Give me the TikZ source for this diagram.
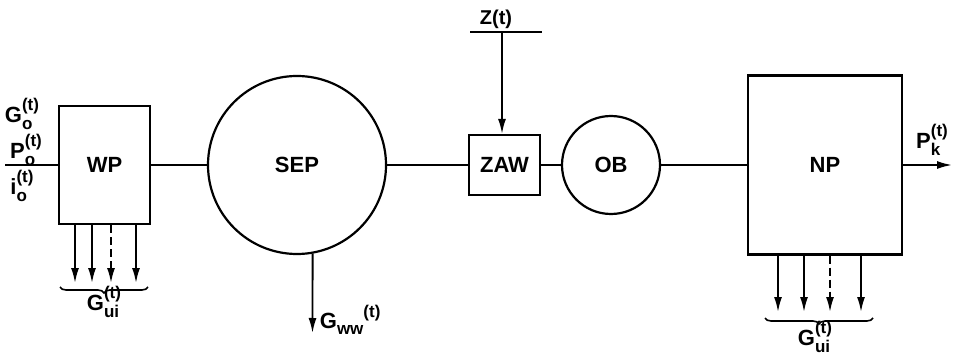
\documentclass[tikz,border=0pt]{standalone}
\usepackage{fontspec}
\setmainfont{Liberation Sans}
\usetikzlibrary{arrows.meta,decorations.pathreplacing}
\newcommand{\scr}[1]{{\fontsize{17}{17}\selectfont\bfseries #1}}
\newcommand{\symlbl}[3]{#1\raisebox{-7pt}{\makebox[0pt][l]{\scr{#2}}}\raisebox{12pt}{\scr{#3}}}
\begin{document}
\begin{tikzpicture}[x=1pt,y=-1pt,
  font=\fontsize{22}{25}\selectfont\bfseries, line width=1.8pt,
  box/.style={draw, line width=2.2pt, inner sep=0pt},
  ring/.style={draw, circle, line width=2.2pt, inner sep=0pt},
  arr/.style={-{Latex[length=15pt,width=8pt]}},
  dsh/.style={dash pattern=on 8pt off 4pt},
  brc/.style={decorate, decoration={brace,mirror,amplitude=6pt}, line width=1.6pt},
  lbl/.style={inner sep=0pt}]
\useasboundingbox (0,0) rectangle (953,358);
% blocks
\node[box, minimum width=91pt, minimum height=118pt] (wp) at (104.5,165) {WP};
\node[ring, minimum size=178pt] (sep) at (297,165) {SEP};
\node[box, minimum width=71pt, minimum height=60pt] (zaw) at (504.5,165) {ZAW};
\node[ring, minimum size=98pt] (ob) at (611,165) {OB};
\node[box, minimum width=154pt, minimum height=179pt] (np) at (825,165) {NP};
% main chain
\coordinate (in) at (5,165);
\coordinate (out) at (952,165);
\draw (in) -- (wp);
\draw (wp) -- (sep);
\draw (sep) -- (zaw);
\draw (zaw) -- (ob);
\draw (ob) -- (np);
\draw[arr] (np) -- (out);
% disturbance Z(t)
\coordinate (zl) at (470,32);
\coordinate (zr) at (542,32);
\coordinate (zt) at (502,32);
\draw (zl) -- (zr);
\draw[arr] (zt) -- (zt |- zaw.north);
\node[lbl, font=\fontsize{20}{22}\selectfont\bfseries] (zlab) at (496,19) {Z(t)};
% WP inputs
\node[lbl] (go) at (22,114) {\symlbl{G}{o}{(t)}};
\node[lbl] (po) at (26,150) {\symlbl{P}{o}{(t)}};
\node[lbl] (io) at (22,186) {\symlbl{i}{o}{(t)}};
% WP outputs
\foreach \i/\x/\s in {1/75/solid,2/92/solid,3/111/dsh,4/136/solid}{
  \coordinate (wa\i) at (\x,283);
  \draw[arr,\s] (wa\i |- wp.south) -- (wa\i);
}
\coordinate (bwl) at (60,287);
\coordinate (bwr) at (148,287);
\draw[brc] (bwl) -- (bwr);
\node[lbl] (guw) at (104,302) {\symlbl{G}{ui}{(t)}};
% SEP output
\coordinate (gww) at (312.5,333);
\draw[arr] (sep.-80) -- (gww);
\node[lbl, anchor=west] (gwwl) at (319,320) {G\raisebox{-6pt}{\scr{ww}}\raisebox{11pt}{\scr{(t)}}};
% NP outputs
\foreach \i/\x/\s in {1/778/solid,2/804/solid,3/830/dsh,4/861/solid}{
  \coordinate (na\i) at (\x,312);
  \draw[arr,\s] (na\i |- np.south) -- (na\i);
}
\coordinate (bnl) at (765,318);
\coordinate (bnr) at (873,318);
\draw[brc] (bnl) -- (bnr);
\node[lbl] (gun) at (815,337) {\symlbl{G}{ui}{(t)}};
% NP output label
\node[lbl] (pk) at (932,140) {\symlbl{P}{k}{(t)}};
\end{tikzpicture}
\end{document}
